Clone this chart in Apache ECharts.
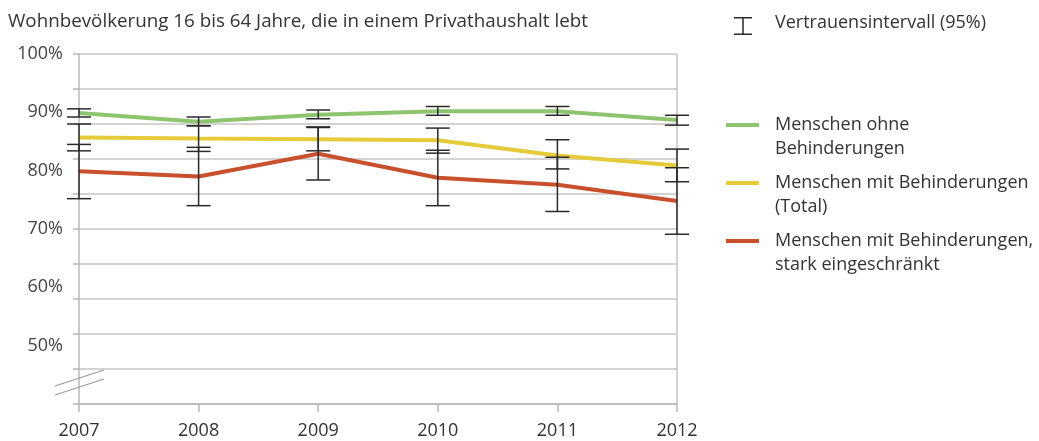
<!DOCTYPE html>
<html>
<head>
<meta charset="utf-8">
<script src="https://cdn.jsdelivr.net/npm/echarts@6/dist/echarts.min.js"></script>
<style>
  html, body { margin: 0; padding: 0; background: #fff; }
  #main { width: 1039px; height: 441px; }
</style>
</head>
<body>
<div id="main"></div>
<script>
// Jahre und Anteile (%)
const years = ['2007', '2008', '2009', '2010', '2011', '2012'];
const ohne = [89.9, 88.4, 89.6, 90.2, 90.2, 88.7];
const total = [85.7, 85.5, 85.4, 85.2, 82.6, 80.9];
const stark = [79.9, 79.0, 82.9, 78.8, 77.6, 74.8];

// Vertrauensintervall (95%)
const ohneLow = [89.2, 87.7, 88.9, 89.5, 89.5, 87.8];
const ohneHigh = [90.6, 89.2, 90.4, 91.0, 91.0, 89.5];
const totalLow = [83.4, 83.3, 83.4, 83.0, 80.3, 78.1];
const totalHigh = [88.0, 87.7, 87.5, 87.3, 85.3, 83.7];
const starkLow = [75.2, 74.0, 78.4, 74.0, 73.0, 69.1];
const starkHigh = [84.5, 84.0, 87.4, 83.5, 82.3, 80.5];

const yTicks = [50, 60, 70, 80, 90, 100];

const names = ['Menschen ohne\nBehinderungen', 'Menschen mit Behinderungen\n(Total)', 'Menschen mit Behinderungen,\nstark eingeschränkt'];
const colors = ['#8fc46e', '#e5cb3a', '#c9502c'];
const ciName = 'Vertrauensintervall (95%)';

const font = 'Open Sans';

// Fehlerbalken-Daten: [index, low, high]
const ciData = [];
[[ohneLow, ohneHigh], [totalLow, totalHigh], [starkLow, starkHigh]].forEach(function (pair) {
  years.forEach(function (y, i) {
    ciData.push([i, pair[0][i], pair[1][i]]);
  });
});

const barIcon = 'path://M0,0L0.01,0M0,10H33V14H0ZM44,48L43.99,48';
const ibarIcon = 'path://M0,0L0.01,0M8,6H26V7.5H17.75V22.5H26V24H8V22.5H16.25V7.5H8ZM44,24L43.99,24';

const chart = echarts.init(document.getElementById('main'));

function renderCI(params, api) {
  const idx = api.value(0);
  const top = api.coord([idx, api.value(2)]);
  const bottom = api.coord([idx, api.value(1)]);
  const w = 12;
  const style = { stroke: '#2a2a2a', lineWidth: 1.5 };
  return {
    type: 'group',
    children: [
      { type: 'line', shape: { x1: top[0], y1: top[1], x2: bottom[0], y2: bottom[1] }, style: style },
      { type: 'line', shape: { x1: top[0] - w, y1: top[1], x2: top[0] + w, y2: top[1] }, style: style },
      { type: 'line', shape: { x1: bottom[0] - w, y1: bottom[1], x2: bottom[0] + w, y2: bottom[1] }, style: style }
    ]
  };
}

const option = {
  backgroundColor: '#fff',
  animation: false,
  textStyle: { fontFamily: font },
  title: {
    text: 'Wohnbevölkerung 16 bis 64 Jahre, die in einem Privathaushalt lebt',
    left: 8,
    top: 12,
    padding: 0,
    textStyle: { fontFamily: font, fontSize: 18.8, fontWeight: 'normal', color: '#333' }
  },
  legend: [
    {
      orient: 'vertical',
      left: 726,
      top: 11,
      padding: 0,
      itemWidth: 44,
      itemHeight: 24,
      selectedMode: false,
      textStyle: { fontFamily: font, fontSize: 18, color: '#333' },
      data: [{ name: ciName, icon: ibarIcon, itemStyle: { color: '#2a2a2a' } }]
    },
    {
      orient: 'vertical',
      left: 726,
      top: 113,
      padding: 0,
      itemWidth: 44,
      itemHeight: 48,
      itemGap: 10,
      selectedMode: false,
      textStyle: { fontFamily: font, fontSize: 18, lineHeight: 24, color: '#333' },
      data: names.map(function (n, i) {
        return { name: n, icon: barIcon, itemStyle: { color: colors[i] } };
      })
    }
  ],
  grid: { left: 79, right: 362, top: 54, bottom: 37 },
  xAxis: {
    type: 'category',
    data: years,
    boundaryGap: false,
    axisLine: { lineStyle: { color: '#b8b8b8', width: 1.5 } },
    axisTick: { length: 8, lineStyle: { color: '#b8b8b8', width: 1.5 } },
    axisLabel: { fontFamily: font, fontSize: 18, color: '#333', margin: 18 },
    splitLine: {
      show: true,
      interval: function (i) { return i === years.length - 1; },
      lineStyle: { color: '#c4c4c4', width: 1.5 }
    }
  },
  yAxis: [
    {
      type: 'value',
      min: 40,
      max: 100,
      interval: 10,
      axisLine: { show: true, lineStyle: { color: '#b8b8b8', width: 1.5 } },
      axisTick: { show: false },
      splitLine: { show: false },
      axisLabel: {
        fontFamily: font,
        fontSize: 18,
        color: '#444',
        margin: 16,
        formatter: function (v) { return yTicks.indexOf(v) >= 0 ? v + '%' : ''; }
      }
    },
    {
      type: 'value',
      min: 0,
      max: 10,
      interval: 1,
      position: 'left',
      axisLine: { show: false },
      axisLabel: { show: false },
      axisTick: { show: true, length: 6, lineStyle: { color: '#b8b8b8', width: 1.5 } },
      splitLine: { show: true, lineStyle: { color: '#c4c4c4', width: 1.5 } }
    }
  ],
  graphic: [
    { type: 'line', shape: { x1: 55, y1: 386, x2: 104, y2: 370 }, style: { stroke: '#9a9a9a', lineWidth: 1.2 }, z: 100 },
    { type: 'line', shape: { x1: 55, y1: 395, x2: 104, y2: 379 }, style: { stroke: '#9a9a9a', lineWidth: 1.2 }, z: 100 }
  ],
  series: [
    { name: names[0], type: 'line', data: ohne, color: colors[0], symbol: 'none', lineStyle: { width: 4, color: colors[0] }, z: 2 },
    { name: names[1], type: 'line', data: total, color: colors[1], symbol: 'none', lineStyle: { width: 4, color: colors[1] }, z: 2 },
    { name: names[2], type: 'line', data: stark, color: colors[2], symbol: 'none', lineStyle: { width: 4, color: colors[2] }, z: 2 },
    {
      name: ciName,
      type: 'custom',
      renderItem: renderCI,
      itemStyle: { color: '#2a2a2a' },
      data: ciData,
      z: 5
    }
  ]
};

chart.setOption(option);
</script>
</body>
</html>
